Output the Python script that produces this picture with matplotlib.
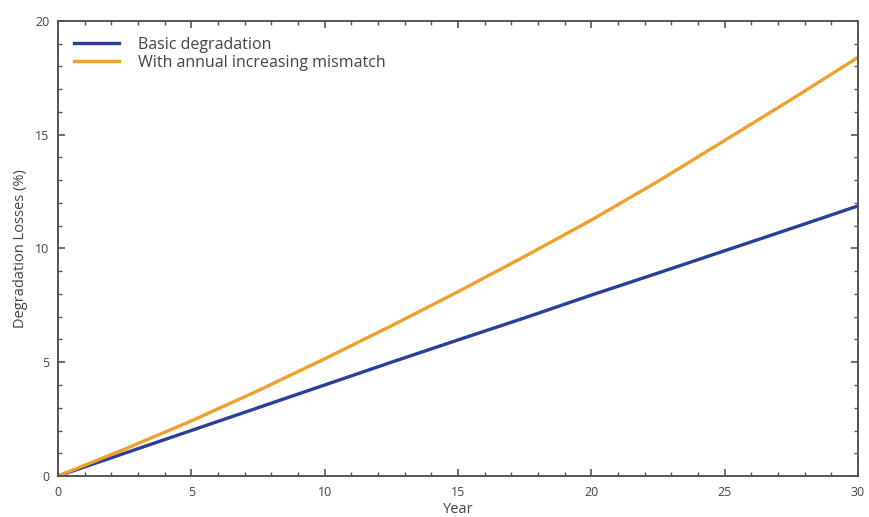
import matplotlib
matplotlib.use("Agg")
import matplotlib.pyplot as plt
from matplotlib.ticker import MultipleLocator

plt.rcParams['font.family'] = ['Open Sans', 'DejaVu Sans']

years = [0, 2.5, 5, 7.5, 10, 12.5, 15, 17.5, 20, 22.5, 25, 27.5, 30]
basic = [0, 1.0, 2.0, 3.0, 4.0, 5.0, 5.98, 6.95, 7.95, 8.92, 9.9, 10.88, 11.87]
mismatch = [0, 1.18, 2.42, 3.75, 5.15, 6.6, 8.1, 9.65, 11.25, 12.95, 14.75, 16.55, 18.4]
labels = ["Basic degradation", "With annual increasing mismatch"]
colors = ["#2a3f98", "#f0a02c"]

fig = plt.figure(figsize=(8.69, 5.17), dpi=100)
ax = fig.add_axes([0.0667, 0.0793, 0.9206, 0.8801])
ax.plot(years, basic, color=colors[0], lw=2.4, label=labels[0])
ax.plot(years, mismatch, color=colors[1], lw=2.4, label=labels[1])
ax.set_xlim(0, 30)
ax.set_ylim(0, 20)
ax.xaxis.set_major_locator(MultipleLocator(5))
ax.xaxis.set_minor_locator(MultipleLocator(1))
ax.yaxis.set_major_locator(MultipleLocator(5))
ax.yaxis.set_minor_locator(MultipleLocator(1))
ax.tick_params(which='both', direction='in', top=True, right=True, colors='#555555',
               labelcolor='#444444', labelsize=9)
ax.tick_params(which='major', length=5, width=1.2)
ax.tick_params(axis='x', which='major', pad=7)
ax.tick_params(axis='y', which='major', pad=6)
ax.tick_params(which='minor', length=3, width=1.0)
for s in ax.spines.values():
    s.set_color('#555555')
    s.set_linewidth(1.4)
ax.set_xlabel("Year", fontsize=10.5, color='#444444', labelpad=2)
ax.set_ylabel("Degradation Losses (%)", fontsize=10.5, color='#444444', labelpad=5)
leg = ax.legend(loc='upper left', frameon=False, fontsize=11.5, handlelength=2.8,
                handletextpad=1.2, labelspacing=0.1, borderaxespad=0.6)
for t in leg.get_texts():
    t.set_color('#444444')
fig.savefig("out.png", dpi=100)
